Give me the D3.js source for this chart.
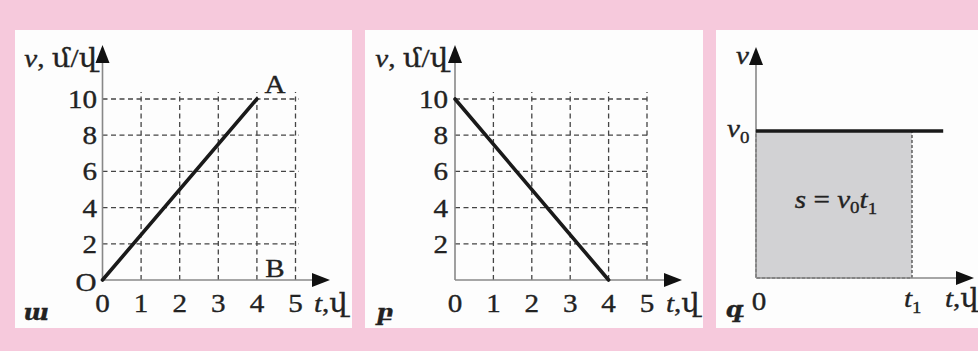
<!DOCTYPE html>
<html><head><meta charset="utf-8">
<script src="https://cdn.jsdelivr.net/npm/d3@7/dist/d3.min.js"></script>
<style>
html,body{margin:0;padding:0;background:#f6c9dc;}
svg{display:block;}
text{font-family:"Liberation Serif","Times New Roman","DejaVu Serif",serif;fill:#222;stroke:#222;stroke-width:0.35px;}
</style></head>
<body>
<script>
// ---- data ----
const tTicks = [0, 1, 2, 3, 4, 5];
const vTicks = [2, 4, 6, 8, 10];
const gridT = [1, 2, 3, 4, 5];
const lineA_t = [0, 4];
const lineA_v = [0, 10];
const lineB_t = [0, 4];
const lineB_v = [10, 0];
const panelLetters = ["ա", "բ", "գ"];
const yLabel = "մ/վ";
const xUnit = "վ";
// panel 3 (symbolic): v0 level, t1 time, line extends to tEnd
const v0Level = 1;
const t1Time = 1;
const constLineT = [0, 1.2];

const W = 978, H = 351;
const svg = d3.select("body").append("svg").attr("width", W).attr("height", H);
svg.append("rect").attr("width", W).attr("height", H).attr("fill", "#f6c9dc");

const panels = [[15, 352], [365, 703], [716, 985]];
panels.forEach(p => svg.append("rect").attr("x", p[0]).attr("y", 30).attr("width", p[1] - p[0]).attr("height", 298).attr("fill", "#fdfdfd"));

const FS = 26;
const SX = 1.12;
function txt(g, x, y, parts, opt = {}) {
  const size = opt.size || FS;
  const t = g.append("g").attr("transform", `translate(${x},${y}) scale(${opt.sx || SX},1)`)
    .append("text").attr("text-anchor", opt.anchor || "start")
    .attr("font-size", size);
  if (opt.bold) t.attr("font-weight", "bold");
  (Array.isArray(parts) ? parts : [[parts, {}]]).forEach(([s, o]) => {
    const ts = t.append("tspan").text(s);
    if (o.italic) ts.attr("font-style", "italic");
    if (o.sub) ts.attr("font-size", size * 0.65).attr("dy", o.sub);
    if (o.dy) ts.attr("dy", o.dy);
  });
  return t;
}
function arrowUp(g, x, yTip) {
  g.append("path").attr("d", `M${x},${yTip} L${x - 7},${yTip + 18} L${x + 7},${yTip + 18} Z`).attr("fill", "#111");
}
function arrowRight(g, xTip, y) {
  g.append("path").attr("d", `M${xTip},${y} L${xTip - 18},${y - 7} L${xTip - 18},${y + 7} Z`).attr("fill", "#111");
}

function gridPanel(x0, x5, y0, y10, lineT, lineV, letter, xArrowTip, labelRight) {
  const g = svg.append("g");
  const x = d3.scaleLinear().domain([0, 5]).range([x0, x5]);
  const y = d3.scaleLinear().domain([0, 10]).range([y0, y10]);
  // grid
  g.selectAll(".gh").data(vTicks).join("line")
    .attr("x1", x(0)).attr("x2", x(5) + 3).attr("y1", d => y(d)).attr("y2", d => y(d))
    .attr("stroke", "#444").attr("stroke-width", 1.3).attr("stroke-dasharray", "5,3.5");
  g.selectAll(".gv").data(gridT).join("line")
    .attr("x1", d => x(d)).attr("x2", d => x(d)).attr("y1", y(0)).attr("y2", y(10) - 7)
    .attr("stroke", "#444").attr("stroke-width", 1.3).attr("stroke-dasharray", "5,3.5");
  // axes
  g.append("line").attr("x1", x(0)).attr("x2", x(0)).attr("y1", y(0)).attr("y2", 55).attr("stroke", "#888").attr("stroke-width", 1.6);
  g.append("line").attr("x1", x(0)).attr("x2", xArrowTip - 10).attr("y1", y(0)).attr("y2", y(0)).attr("stroke", "#888").attr("stroke-width", 1.6);
  arrowUp(g, x(0), 45);
  arrowRight(g, xArrowTip, y(0));
  // data line
  const pts = lineT.map((t, i) => [x(t), y(lineV[i])]);
  g.append("path").attr("d", d3.line()(pts)).attr("fill", "none").attr("stroke", "#1a1a1a").attr("stroke-width", 3.6).attr("stroke-linecap", "round");
  // tick labels
  vTicks.forEach(v => txt(g, labelRight, y(v) + 9, String(v), { anchor: "end" }));
  tTicks.forEach(t => txt(g, x(t), y(0) + 32, String(t), { anchor: "middle" }));
  // axis labels
  txt(g, labelRight, 67, [["v", { italic: true }], [", " + yLabel, {}]], { anchor: "end" });
  txt(g, xArrowTip - 16, y(0) + 32, [["t", { italic: true }], ["," + xUnit, {}]]);
  txt(g, x0 - 79, y(0) + 40, letter, { bold: true, size: 22, sx: 1.1 }).attr("font-style", "italic");
  return { g, x, y };
}

const pA = gridPanel(102.5, 295.5, 280, 99, lineA_t, lineA_v, panelLetters[0], 330, 97);
txt(pA.g, 86, 291, "O", { anchor: "middle" });
txt(pA.g, pA.x(4) + 18, 93, "A", { anchor: "middle" });
txt(pA.g, pA.x(4) + 18, 277, "B", { anchor: "middle" });

const pB = gridPanel(455, 647, 280, 99, lineB_t, lineB_v, panelLetters[1], 682, 448);

// panel 3
const g3 = svg.append("g");
const x3 = d3.scaleLinear().domain([0, 1]).range([756, 912]);
const y3 = d3.scaleLinear().domain([0, 1]).range([278, 131]);
g3.append("rect").attr("x", x3(0)).attr("y", y3(v0Level)).attr("width", x3(t1Time) - x3(0)).attr("height", y3(0) - y3(v0Level))
  .attr("fill", "#d2d2d4").attr("stroke", "#555").attr("stroke-width", 1.4).attr("stroke-dasharray", "3,2");
g3.append("line").attr("x1", x3(0)).attr("x2", x3(0)).attr("y1", y3(0)).attr("y2", 57).attr("stroke", "#888").attr("stroke-width", 1.6);
g3.append("line").attr("x1", x3(0)).attr("x2", 963).attr("y1", y3(0)).attr("y2", y3(0)).attr("stroke", "#888").attr("stroke-width", 1.6);
arrowUp(g3, x3(0), 47);
arrowRight(g3, 974, y3(0));
g3.append("path").attr("d", d3.line()(constLineT.map(t => [x3(t), y3(v0Level)]))).attr("stroke", "#1a1a1a").attr("stroke-width", 3.6).attr("fill", "none");
txt(g3, 749, 64, [["v", { italic: true }]], { anchor: "end" });
txt(g3, 727, 137, [["v", { italic: true }], ["0", { sub: 6 }]]);
txt(g3, x3(0) + 3, 310, "0", { anchor: "middle" });
txt(g3, x3(t1Time) - 8, 307, [["t", { italic: true }], ["1", { sub: 6 }]]);
txt(g3, 945, 307, [["t", { italic: true }], ["," + xUnit, {}]]);
txt(g3, 725, 317, panelLetters[2], { bold: true, size: 22, sx: 1.1 }).attr("font-style", "italic");
txt(g3, 836, 208, [["s", { italic: true }], ["  =  ", {}], ["v", { italic: true }], ["0", { sub: 5 }], ["t", { italic: true, dy: -5 }], ["1", { sub: 6 }]], { anchor: "middle", size: 26 });
</script>
</body></html>
